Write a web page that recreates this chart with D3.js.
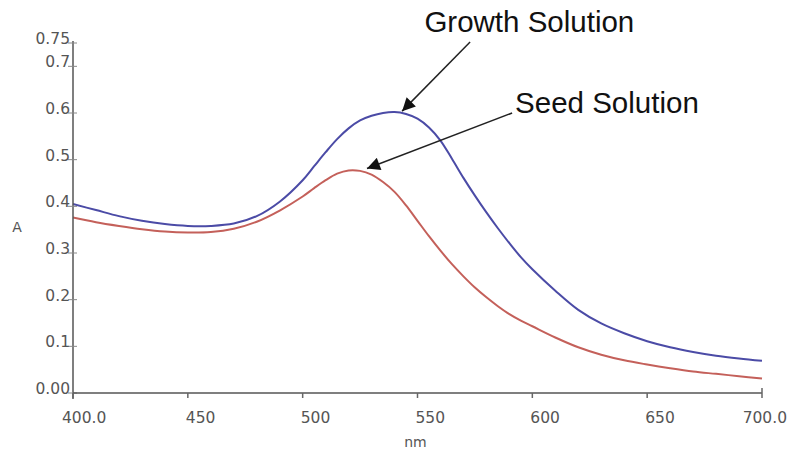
<!DOCTYPE html>
<html><head><meta charset="utf-8">
<script src="https://cdn.jsdelivr.net/npm/d3@7"></script>
<style>body{margin:0;background:#fff}svg{display:block}</style>
</head><body>
<svg id="c" width="790" height="450"></svg>
<script>
const wavelengths = [400,410,420,430,440,450,460,470,480,490,500,505,510,515,520,525,530,535,540,545,550,555,560,565,570,575,580,585,590,595,600,610,620,630,640,650,660,670,680,690,700];
const growth = [0.405,0.392,0.379,0.369,0.362,0.358,0.358,0.363,0.379,0.410,0.456,0.486,0.516,0.544,0.567,0.584,0.594,0.600,0.602,0.598,0.588,0.569,0.541,0.502,0.461,0.423,0.387,0.353,0.321,0.291,0.265,0.219,0.178,0.149,0.128,0.111,0.098,0.088,0.080,0.074,0.069];
const seed = [0.376,0.366,0.358,0.351,0.346,0.344,0.345,0.352,0.367,0.391,0.421,0.439,0.456,0.470,0.477,0.476,0.468,0.452,0.431,0.402,0.369,0.336,0.305,0.276,0.250,0.226,0.205,0.186,0.169,0.155,0.143,0.119,0.098,0.082,0.070,0.061,0.053,0.046,0.041,0.036,0.031];
const xTicks = [400,450,500,550,600,650,700];
const xTickLabels = ["400.0","450","500","550","600","650","700.0"];
const yTicks = [0,0.1,0.2,0.3,0.4,0.5,0.6,0.7,0.75];
const yTickLabels = ["0.00","0.1","0.2","0.3","0.4","0.5","0.6","0.7","0.75"];
const annotationLabels = ["Growth Solution","Seed Solution"];
const annotationText = [[553.0,0.774],[592.5,0.600]];
const arrowTail = [[572.9,0.752],[591.2,0.600]];
const arrowTip = [[543.3,0.604],[528.0,0.481]];

const svg = d3.select("#c");
const x = d3.scaleLinear().domain([400,700]).range([73,762]);
const y = d3.scaleLinear().domain([0,0.75]).range([393,43]);

svg.append("defs").append("marker")
  .attr("id","ah").attr("viewBox","0 0 10 10").attr("refX",10).attr("refY",5)
  .attr("markerWidth",16).attr("markerHeight",13).attr("markerUnits","userSpaceOnUse")
  .attr("orient","auto")
  .append("path").attr("d","M0,0 L10,5 L0,10 Z").attr("fill","#111");

const line = d3.line().x((d,i)=>x(wavelengths[i])).y(d=>y(d)).curve(d3.curveCatmullRom.alpha(0.5));
svg.append("path").datum(seed).attr("d",line).attr("fill","none").attr("stroke","#c4605a").attr("stroke-width",2);
svg.append("path").datum(growth).attr("d",line).attr("fill","none").attr("stroke","#4b4ba6").attr("stroke-width",2);

const gy = svg.append("g");
gy.append("line").attr("x1",x(400)).attr("x2",x(400)).attr("y1",y(0.75)-2).attr("y2",y(0)+6)
  .attr("stroke","#555").attr("stroke-width",1.5);
yTicks.forEach((t,i)=>{
  gy.append("line").attr("x1",x(400)-5).attr("x2",x(400)+4).attr("y1",y(t)).attr("y2",y(t))
    .attr("stroke","#888").attr("stroke-width",1);
  gy.append("text").attr("x",x(400)-3).attr("y",y(t)+1).attr("text-anchor","end")
    .attr("font-family","DejaVu Sans").attr("font-size",15.5).attr("fill","#555").text(yTickLabels[i]);
});
gy.append("text").attr("x",17).attr("y",232).attr("text-anchor","middle")
  .attr("font-family","DejaVu Sans").attr("font-size",14).attr("fill","#555").text("A");

const gx = svg.append("g");
gx.append("line").attr("x1",x(400)).attr("x2",x(700)).attr("y1",y(0)).attr("y2",y(0))
  .attr("stroke","#555").attr("stroke-width",1.5);
xTicks.forEach((t,i)=>{
  gx.append("line").attr("x1",x(t)).attr("x2",x(t)).attr("y1",y(0)-(i===xTicks.length-1?5:0)).attr("y2",y(0)+5)
    .attr("stroke","#666").attr("stroke-width",1.5);
  const last = i===xTicks.length-1, first = i===0;
  gx.append("text").attr("x",x(t)+(first?-11:last?25:-2)).attr("y",423)
    .attr("text-anchor",last?"end":"start")
    .attr("font-family","DejaVu Sans").attr("font-size",15.5).attr("fill","#555").text(xTickLabels[i]);
});
gx.append("text").attr("x",x(550)-2).attr("y",447).attr("text-anchor","middle")
  .attr("font-family","DejaVu Sans").attr("font-size",14).attr("fill","#555").text("nm");

annotationLabels.forEach((lab,i)=>{
  svg.append("line").attr("x1",x(arrowTail[i][0])).attr("y1",y(arrowTail[i][1]))
    .attr("x2",x(arrowTip[i][0])).attr("y2",y(arrowTip[i][1]))
    .attr("stroke","#222").attr("stroke-width",1.5).attr("marker-end","url(#ah)");
  svg.append("text").attr("x",x(annotationText[i][0])).attr("y",y(annotationText[i][1]))
    .attr("font-family","Liberation Sans, Arial").attr("font-size",29.5)
    .attr("fill","#111").text(lab);
});
</script>
</body></html>
